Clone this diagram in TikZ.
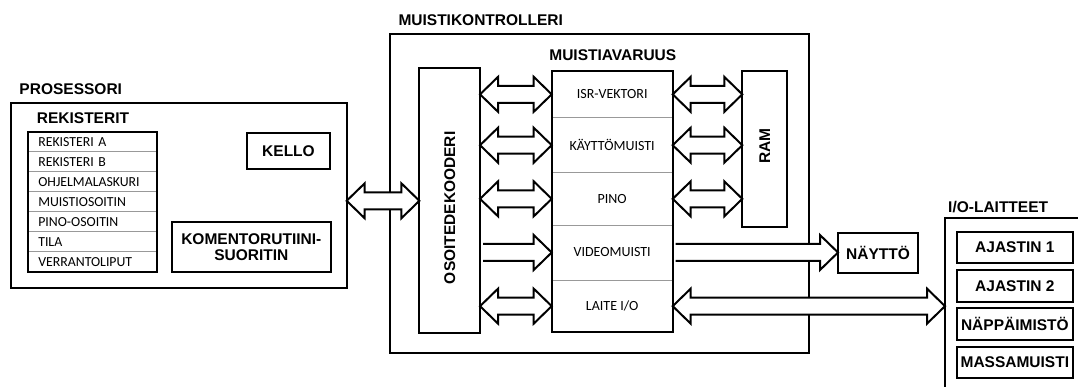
\documentclass[tikz,border=0pt]{standalone}
\usepackage{fontspec}
\setmainfont{Liberation Sans}
\newfontfamily\carlito{Carlito}
\usetikzlibrary{calc,positioning}

\newcommand{\titlef}{\fontsize{15.5}{16}\selectfont\bfseries}
\newcommand{\cellf}{\carlito\fontsize{14}{15}\selectfont}
\newcommand{\regf}{\carlito\fontsize{13.8}{15}\selectfont}

\tikzset{
  box/.style={draw,line width=2pt,inner sep=0pt,outer sep=0pt},
  cell/.style={inner sep=0pt,outer sep=0pt,minimum width=121pt,font=\cellf},
  regrow/.style={inner ysep=0pt,inner xsep=10pt,outer sep=0pt,text width=109pt,
    align=left,minimum height=20pt,font=\regf},
  sep/.style={draw=gray!80,line width=0.8pt},
  title/.style={font=\titlef,inner sep=0pt},
  blockarrow/.style={draw,line width=2pt,fill=white,line join=miter},
}

% hollow arrows, tips at both ends / at the second end
\newcommand{\dblarrow}[2]{%
  \draw[blockarrow] let \p1=(#1), \p2=(#2) in
    (\x1,\y1) -- (\x1+18pt,\y1+17.5pt) -- (\x1+18pt,\y1+8.5pt)
    -- (\x2-18pt,\y1+8.5pt) -- (\x2-18pt,\y1+17.5pt) -- (\x2,\y1)
    -- (\x2-18pt,\y1-17.5pt) -- (\x2-18pt,\y1-8.5pt)
    -- (\x1+18pt,\y1-8.5pt) -- (\x1+18pt,\y1-17.5pt) -- cycle;}
\newcommand{\sglarrow}[2]{%
  \draw[blockarrow] let \p1=(#1), \p2=(#2) in
    (\x1+3pt,\y1+8.5pt) -- (\x2-18pt,\y1+8.5pt) -- (\x2-18pt,\y1+17.5pt)
    -- (\x2,\y1) -- (\x2-18pt,\y1-17.5pt) -- (\x2-18pt,\y1-8.5pt)
    -- (\x1+3pt,\y1-8.5pt);}

\begin{document}
\begin{tikzpicture}[x=1pt,y=-1pt]
\useasboundingbox (0,0) rectangle (1078,387);
\clip (0,0) rectangle (1078,387);

% processor
\node[title,anchor=west] (proclbl) at (19.3,88.7) {PROSESSORI};
\node[box,anchor=north west,minimum width=336pt,minimum height=185pt] (proc) at (10.7,103.3) {};
\node[title,anchor=west] (reklbl) at (36.7,118.3) {REKISTERIT};
\node[regrow,anchor=north west] (rega) at (28.3,131.7) {REKISTERI A};
\node[regrow,below=0pt of rega] (regb) {REKISTERI B};
\node[regrow,below=0pt of regb] (pc) {OHJELMALASKURI};
\node[regrow,below=0pt of pc] (mar) {MUISTIOSOITIN};
\node[regrow,below=0pt of mar] (sp) {PINO-OSOITIN};
\node[regrow,below=0pt of sp] (tila) {TILA};
\node[regrow,below=0pt of tila] (flags) {VERRANTOLIPUT};
\foreach \r in {rega,regb,pc,mar,sp,tila}
  \draw[sep] (\r.south west) -- (\r.south east);
\draw[line width=2pt] (rega.north west) rectangle (flags.south east);
\node[box,title,minimum width=83pt,minimum height=36.6pt] (kello) at (288.5,151) {KELLO};
\node[box,title,minimum width=159.3pt,minimum height=50pt,align=center] (exec) at (251.3,246.7)
  {KOMENTORUTIINI-\\SUORITIN};

% memory controller
\node[title,anchor=west] (ctrllbl) at (398.3,20) {MUISTIKONTROLLERI};
\node[box,anchor=north west,minimum width=419pt,minimum height=319pt] (ctrl) at (390,34.3) {};
\node[title] (avlbl) at (612.8,55) {MUISTIAVARUUS};
\node[box,minimum width=60.7pt,minimum height=265pt] (osoite) at (449.7,200.8) {};
\node[title,rotate=90] (osoitetxt) at ([yshift=-7pt]osoite.center) {OSOITEDEKOODERI};
\node[cell,anchor=north west,minimum height=46.7pt] (isr) at (551.7,71) {ISR-VEKTORI};
\node[cell,below=0pt of isr,minimum height=55pt] (kaytto) {KÄYTTÖMUISTI};
\node[cell,below=0pt of kaytto,minimum height=52.3pt] (pino) {PINO};
\node[cell,below=0pt of pino,minimum height=55pt] (video) {VIDEOMUISTI};
\node[cell,below=0pt of video,minimum height=52.3pt] (laite) {LAITE I/O};
\foreach \r in {isr,kaytto,pino,video}
  \draw[sep] (\r.south west) -- (\r.south east);
\draw[line width=2pt] (isr.north west) rectangle (laite.south east);
\node[box,minimum width=45pt,minimum height=155.7pt] (ram) at (764.8,148.8) {};
\node[title,rotate=90] (ramtxt) at ([yshift=3pt]ram.center) {RAM};

% display and i/o devices
\node[box,title,minimum width=80pt,minimum height=40pt] (naytto) at (878,252.7) {NÄYTTÖ};
\node[title,anchor=west] (iolbl) at (948,207.3) {I/O-LAITTEET};
\node[box,anchor=north west,minimum width=160pt,minimum height=200pt] (io) at (945,218.3) {};
\node[box,title,anchor=north west,minimum width=116.3pt,minimum height=31.6pt] (ajastin1) at (956.7,231.7) {AJASTIN 1};
\node[box,title,below=6.7pt of ajastin1,minimum width=116.3pt,minimum height=31.6pt] (ajastin2) {AJASTIN 2};
\node[box,title,below=6.7pt of ajastin2,minimum width=116.3pt,minimum height=31.6pt] (nappis) {NÄPPÄIMISTÖ};
\node[box,title,below=6.7pt of nappis,minimum width=116.3pt,minimum height=31.6pt] (massa) {MASSAMUISTI};

% buses
\dblarrow{proc.east |- osoite.west}{osoite.west}
\dblarrow{osoite.east |- isr.west}{isr.west}
\dblarrow{osoite.east |- kaytto.west}{kaytto.west}
\dblarrow{osoite.east |- pino.west}{pino.west}
\sglarrow{osoite.east |- video.west}{video.west}
\dblarrow{osoite.east |- laite.west}{laite.west}
\dblarrow{isr.east}{ram.west |- isr.east}
\dblarrow{kaytto.east}{ram.west |- kaytto.east}
\dblarrow{pino.east}{ram.west |- pino.east}
\sglarrow{video.east}{naytto.west |- video.east}
\dblarrow{laite.east}{io.west |- laite.east}
\end{tikzpicture}
\end{document}
